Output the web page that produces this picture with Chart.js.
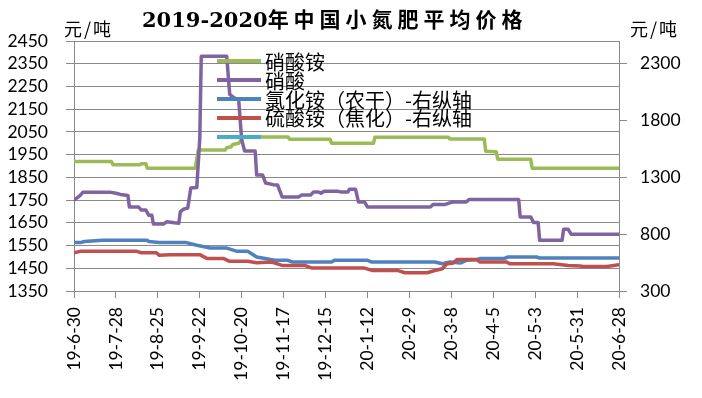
<!DOCTYPE html>
<html lang="zh">
<head>
  <meta charset="UTF-8">
  <title>2019-2020年中国小氮肥平均价格</title>
  <script src="https://cdn.jsdelivr.net/npm/chart.js"></script>
  <style>
    * {
      box-sizing: border-box;
    }

    body {
      margin: 0;
      background: #fff;
    }

    .wrap {
      position: relative;
      width: 702px;
      height: 398px;
    }

    canvas {
      position: absolute;
      left: 0;
      top: 0;
    }

    .title {
      position: absolute;
      left: 142px;
      top: 8px;
      font: bold 21px/21px "DejaVu Serif", "Noto Sans CJK SC", serif;
      color: #000;
      white-space: nowrap;
    }

    .title .cn {
      font-family: "Noto Sans CJK SC", sans-serif;
      letter-spacing: 5px;
    }

    .unit {
      position: absolute;
      top: 19px;
      font: 18px/18px "Noto Sans CJK SC", sans-serif;
      letter-spacing: 2px;
      color: #000;
      white-space: nowrap;
    }

    .legend {
      position: absolute;
      left: 217px;
      top: 52px;
      font: 20px "Noto Sans CJK SC", sans-serif;
      color: #000;
    }

    .legend-row {
      display: flex;
      align-items: center;
      height: 18.8px;
      white-space: nowrap;
    }

    .legend-line {
      width: 44px;
      height: 4px;
      margin-right: 4px;
    }
  </style>
</head>
<body>

<div class="wrap">
  <canvas id="priceChart" width="702" height="398"></canvas>
  <div class="title">2019-2020<span class="cn">年中国小氮肥平均价格</span></div>
  <div class="unit" style="left:64px">元/吨</div>
  <div class="unit" style="left:630px">元/吨</div>
  <div class="legend" id="legend"></div>
</div>

<script>
// x = days since 2019-06-30, tick every 28 days
const xLabels = ['19-6-30', '19-7-28', '19-8-25', '19-9-22', '19-10-20', '19-11-17', '19-12-15',
  '20-1-12', '20-2-9', '20-3-8', '20-4-5', '20-5-3', '20-5-31', '20-6-28'];
const leftTicks = [1350, 1450, 1550, 1650, 1750, 1850, 1950, 2050, 2150, 2250, 2350, 2450];
const rightTicks = [300, 800, 1300, 1800, 2300];

// 硝酸铵 (left axis)
const anDays = [0, 25, 26, 44, 45, 48, 49, 81, 83, 101, 102, 105, 106, 110, 113, 143, 144, 171, 172, 200,
  201, 250, 251, 274, 275, 282, 283, 305, 306, 364];
const anPrice = [1920, 1920, 1905, 1905, 1910, 1910, 1890, 1890, 1970, 1970, 1980, 1985, 1995, 2000, 2028, 2028, 2018, 2018, 2000, 2000,
  2027, 2027, 2019, 2019, 1965, 1963, 1930, 1930, 1890, 1890];

// 硝酸 (left axis)
const naDays = [0, 4, 6, 24, 28, 31, 36, 37, 43, 45, 48, 50, 52, 53, 60, 62, 67, 70, 71, 73, 76, 78, 82, 84, 85,
  102, 104, 107, 110, 112, 114, 121, 122, 126, 128, 133, 136, 139, 150, 152, 158, 160, 163, 165, 167, 176, 178,
  183, 184, 188, 190, 194, 196, 238, 240, 248, 253, 262, 264, 297, 298, 305, 307, 310, 311, 326, 327, 330, 332, 364];
const naPrice = [1750, 1770, 1785, 1785, 1780, 1775, 1770, 1720, 1720, 1706, 1706, 1683, 1683, 1645, 1645, 1655, 1650, 1648, 1698, 1710, 1715, 1803, 1805, 2020, 2383,
  2383, 2215, 2200, 2190, 2015, 1966, 1966, 1860, 1860, 1825, 1818, 1816, 1764, 1764, 1772, 1772, 1786, 1786, 1780, 1789, 1789, 1786,
  1786, 1798, 1798, 1742, 1742, 1720, 1720, 1731, 1731, 1742, 1742, 1753, 1753, 1676, 1676, 1651, 1651, 1573, 1573, 1622, 1622, 1600, 1600];

// 氯化铵（农干）(right axis)
const acDays = [0, 4, 7, 19, 49, 50, 57, 75, 82, 91, 102, 109, 116, 122, 134, 143, 146, 172, 174, 196, 199,
  241, 246, 251, 258, 262, 269, 271, 287, 290, 309, 311, 364];
const acPrice = [726, 726, 735, 746, 746, 735, 726, 726, 702, 678, 678, 649, 649, 599, 570, 570, 555, 555, 570, 570, 555,
  555, 540, 555, 546, 570, 575, 585, 585, 599, 599, 590, 590];

// 硫酸铵（焦化）(right axis)
const asDays = [0, 4, 42, 45, 55, 57, 64, 84, 89, 100, 104, 116, 122, 132, 139, 154, 159, 194, 199, 216,
  221, 236, 241, 246, 249, 253, 256, 269, 271, 289, 291, 320, 330, 338, 340, 356, 364];
const asPrice = [637, 649, 649, 637, 637, 614, 620, 620, 585, 585, 561, 561, 549, 555, 525, 525, 502, 502, 481, 481,
  461, 461, 480, 496, 540, 545, 578, 578, 555, 555, 540, 540, 525, 520, 516, 516, 531];

function toPoints(days, prices) {
  return days.map((d, i) => ({ x: d, y: prices[i] }));
}

const gridGray = '#898989';
const tickFont = { family: 'Lato', size: 17.5 };

const ctx = document.getElementById('priceChart').getContext('2d');

const chart = new Chart(ctx, {
  type: 'line',
  data: {
    datasets: [
      { label: '硝酸铵', data: toPoints(anDays, anPrice), borderColor: '#9bbb59', yAxisID: 'y', order: 4 },
      { label: '硝酸', data: toPoints(naDays, naPrice), borderColor: '#8064a2', yAxisID: 'y', order: 3 },
      { label: '氯化铵（农干）-右纵轴', data: toPoints(acDays, acPrice), borderColor: '#4f81bd', yAxisID: 'y1', order: 2 },
      { label: '硫酸铵（焦化）-右纵轴', data: toPoints(asDays, asPrice), borderColor: '#c0504d', yAxisID: 'y1', order: 1 },
      { label: '', data: [], borderColor: '#4bacc6', yAxisID: 'y1', order: 0 }
    ]
  },
  options: {
    responsive: false,
    animation: false,
    layout: { padding: { top: 41, left: 0, right: 0, bottom: 0 } },
    elements: {
      line: { borderWidth: 3.5, tension: 0, borderCapStyle: 'round', borderJoinStyle: 'round' },
      point: { radius: 0 }
    },
    plugins: {
      legend: { display: false },
      title: { display: false },
      tooltip: { enabled: false }
    },
    scales: {
      x: {
        type: 'linear',
        min: 0,
        max: 364,
        ticks: {
          stepSize: 28,
          autoSkip: false,
          minRotation: 90,
          maxRotation: 90,
          padding: 9,
          color: '#000',
          font: tickFont,
          callback: v => xLabels[Math.round(v / 28)]
        },
        grid: { drawOnChartArea: false, tickLength: 7, color: gridGray },
        border: { color: gridGray },
        afterFit: s => { s.height = 107; }
      },
      y: {
        position: 'left',
        min: 1350,
        max: 2450,
        afterBuildTicks: s => { s.ticks = leftTicks.map(v => ({ value: v })); },
        ticks: { autoSkip: false, padding: 18, color: '#000', font: tickFont, callback: v => String(v) },
        grid: { color: gridGray, tickLength: 8 },
        border: { color: gridGray },
        afterFit: s => { s.width = 74; }
      },
      y1: {
        position: 'right',
        min: 300,
        max: 2500,
        afterBuildTicks: s => { s.ticks = rightTicks.map(v => ({ value: v })); },
        ticks: { autoSkip: false, padding: 13, color: '#000', font: tickFont, callback: v => String(v) },
        grid: { drawOnChartArea: false, tickLength: 8, color: gridGray },
        border: { color: gridGray },
        afterFit: s => { s.width = 83; }
      }
    }
  }
});

// legend drawn inside the plot, like the original
const legendBox = document.getElementById('legend');
chart.data.datasets.forEach(ds => {
  const row = document.createElement('div');
  row.className = 'legend-row';
  const line = document.createElement('span');
  line.className = 'legend-line';
  line.style.background = ds.borderColor;
  const text = document.createElement('span');
  text.textContent = ds.label;
  row.appendChild(line);
  row.appendChild(text);
  legendBox.appendChild(row);
});
</script>

</body>
</html>
